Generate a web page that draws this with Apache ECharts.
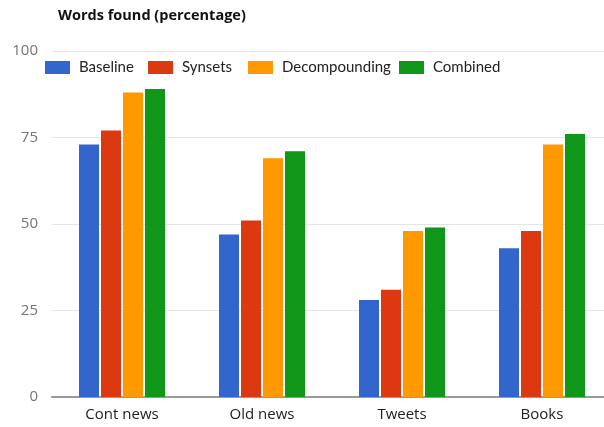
<!DOCTYPE html>
<html>
<head>
<meta charset="utf-8">
<script src="https://cdn.jsdelivr.net/npm/echarts@6/dist/echarts.min.js"></script>
<style>
  html, body { margin: 0; padding: 0; background: #fff; }
  #chart { width: 604px; height: 427px; }
</style>
</head>
<body>
<div id="chart"></div>
<script>
var categories = ['Cont news', 'Old news', 'Tweets', 'Books']
var seriesNames = ['Baseline', 'Synsets', 'Decompounding', 'Combined']
var baseline = [73, 47, 28, 43]
var synsets = [77, 51, 31, 48]
var decompounding = [88, 69, 48, 73]
var combined = [89, 71, 49, 76]
var yTicks = [0, 25, 50, 75, 100]

var colors = ['#3366cc', '#dc3912', '#ff9900', '#109618']
var values = [baseline, synsets, decompounding, combined]
var legendLeft = [40, 143, 243, 394]

var chart = echarts.init(document.getElementById('chart'))

var legends = seriesNames.map(function(name, i) {
  return {
    data: [name],
    left: legendLeft[i],
    top: 55,
    itemWidth: 25,
    itemHeight: 13,
    icon: 'rect',
    selectedMode: false,
    textStyle: { fontFamily: 'Lato', fontSize: 15, color: '#222', padding: [0, 0, 0, 4] }
  }
})

chart.setOption({
  animation: false,
  color: colors,
  title: {
    text: 'Words found (percentage)',
    left: 53,
    top: 3,
    textStyle: { fontFamily: 'Open Sans', fontSize: 14.5, fontWeight: 'bold', color: '#111' }
  },
  legend: legends,
  grid: { left: 52, width: 560, top: 51, bottom: 30, outerBoundsMode: 'none' },
  xAxis: {
    type: 'category',
    data: categories,
    axisTick: { show: false },
    axisLine: { lineStyle: { color: '#999', width: 2 } },
    axisLabel: { fontFamily: 'Open Sans', fontSize: 15, color: '#222', margin: 10 }
  },
  yAxis: {
    type: 'value',
    min: 0,
    max: 100,
    interval: 25,
    axisLabel: {
      fontFamily: 'Open Sans', fontSize: 15, color: '#757575', margin: 14,
      formatter: function(v) { return yTicks.indexOf(v) >= 0 ? String(v) : '' }
    },
    splitLine: { lineStyle: { color: '#e4e4e4' } }
  },
  series: seriesNames.map(function(name, i) {
    return {
      name: name,
      type: 'bar',
      data: values[i],
      barWidth: 20,
      barGap: '10%'
    }
  })
})
</script>
</body>
</html>
